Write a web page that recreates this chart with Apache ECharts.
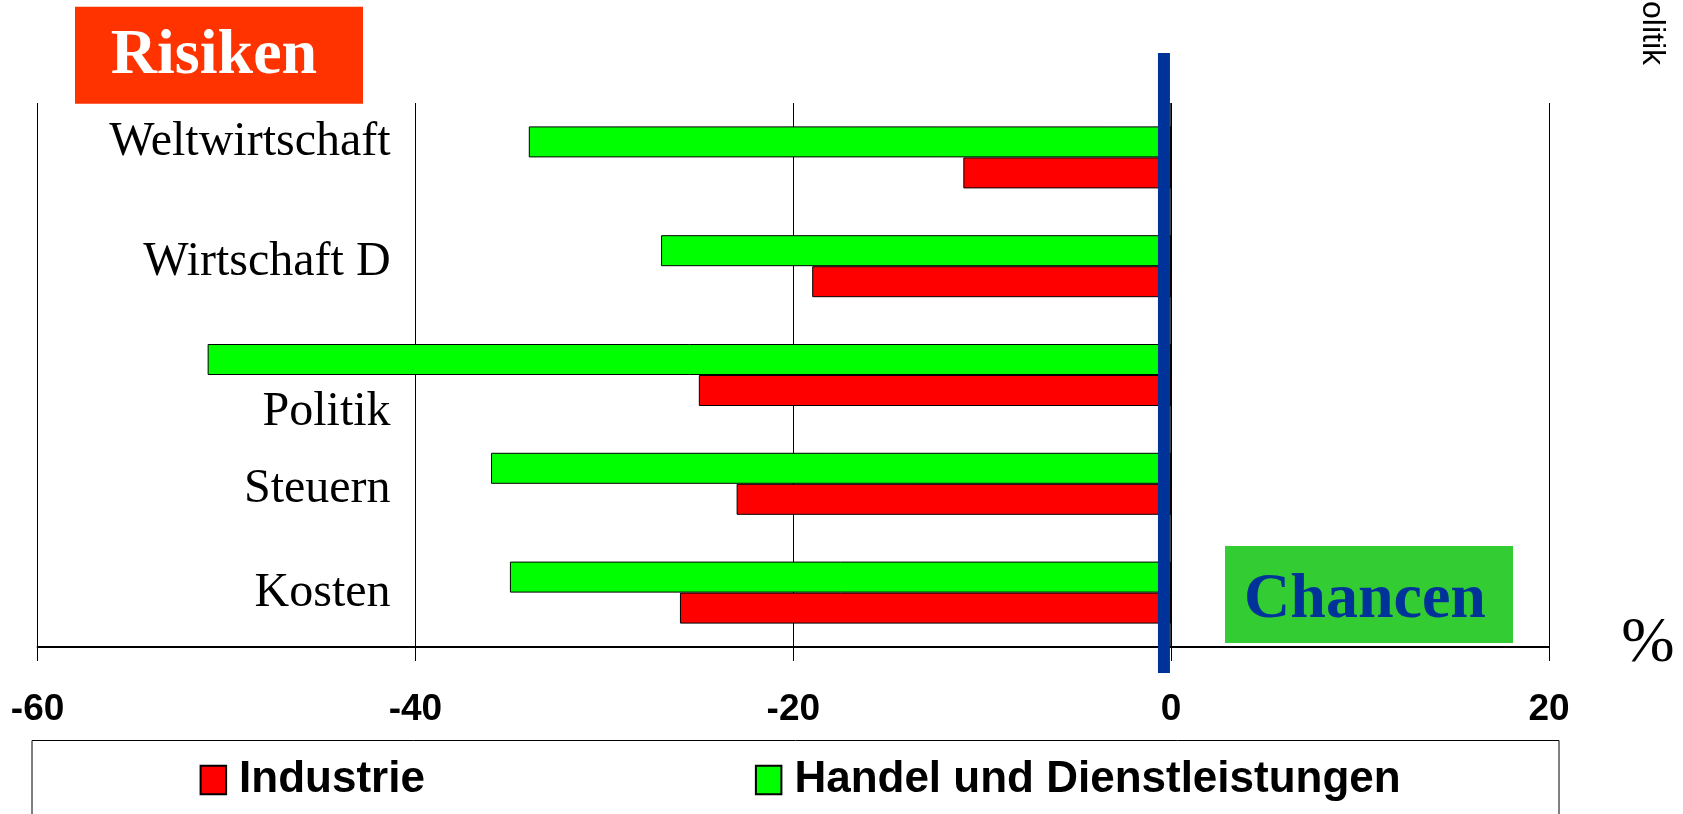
<!DOCTYPE html>
<html><head><meta charset="utf-8">
<script src="https://cdn.jsdelivr.net/npm/echarts@6/dist/echarts.min.js"></script>
<style>html,body{margin:0;padding:0;background:#fff}#c{width:1683px;height:814px}</style>
</head><body><div id="c"></div>
<script>
// Data (categories listed bottom -> top)
const categories = ['Kosten', 'Steuern', 'Politik', 'Wirtschaft D', 'Weltwirtschaft'];
const industrie = [-26, -23, -25, -19, -11];
const handel = [-35, -36, -51, -27, -34];
const seriesNames = ['Industrie', 'Handel und Dienstleistungen'];
const xMin = -60, xMax = 20, xStep = 20;

// Styling: vertical shift of each category label (px, negative = up)
const labelShift = { 'Weltwirtschaft': -15.5, 'Wirtschaft D': -3.5, 'Politik': 37, 'Steuern': 6, 'Kosten': 1 };
const rich = {};
categories.forEach((c, i) => {
  const d = labelShift[c] || 0;
  rich['l' + i] = {
    fontFamily: 'Liberation Serif', fontSize: 48, color: '#000',
    padding: d < 0 ? [0, 0, -2 * d, 0] : [2 * d, 0, 0, 0]
  };
});

const chart = echarts.init(document.getElementById('c'), null, { renderer: 'canvas' });
chart.setOption({
  animation: false,
  backgroundColor: '#fff',
  grid: { left: 37.6, right: 134, top: 103, bottom: 167 },
  xAxis: {
    type: 'value', min: xMin, max: xMax, interval: xStep,
    axisLine: { show: true, onZero: false, lineStyle: { color: '#000', width: 2 } },
    axisTick: { show: true, length: 14, lineStyle: { color: '#000', width: 1 } },
    splitLine: { show: true, lineStyle: { color: '#000', width: 1 } },
    axisLabel: { fontFamily: 'Liberation Sans', fontWeight: 'bold', fontSize: 37, color: '#000', margin: 44 }
  },
  yAxis: {
    type: 'category', data: categories,
    axisLine: { show: false }, axisTick: { show: false }, splitLine: { show: false },
    axisLabel: {
      margin: -353, align: 'right',
      formatter: (v) => '{l' + categories.indexOf(v) + '|' + v + '}',
      rich: rich
    }
  },
  legend: {
    data: seriesNames, left: 194.6, top: 753, orient: 'horizontal',
    icon: 'rect', itemWidth: 25.5, itemHeight: 28.5, itemGap: 330,
    textStyle: { fontFamily: 'Liberation Sans', fontWeight: 'bold', fontSize: 44, color: '#000', padding: [0, 0, 0, 8] }
  },
  series: [
    {
      name: seriesNames[1], type: 'bar', data: handel, barWidth: 31, barGap: '0%',
      itemStyle: { color: '#00FF00', borderColor: '#000', borderWidth: 1 },
      markLine: {
        silent: true, symbol: 'none', label: { show: false },
        lineStyle: { color: '#000', width: 1.5, type: 'solid' },
        data: [{ xAxis: 0 }]
      }
    },
    {
      name: seriesNames[0], type: 'bar', data: industrie, barWidth: 31, barGap: '0%',
      itemStyle: { color: '#FF0000', borderColor: '#000', borderWidth: 1 }
    }
  ]
});

const zeroX = chart.convertToPixel({ xAxisIndex: 0 }, 0);
chart.setOption({
  graphic: [
    // Risiken box
    { type: 'rect', z: 100, shape: { x: 75, y: 6.7, width: 288, height: 97 }, style: { fill: '#FF3300' } },
    { type: 'text', z: 101, x: 214, y: 56, style: { text: 'Risiken', fill: '#fff', font: 'bold 64px "Liberation Serif"', textAlign: 'center', textVerticalAlign: 'middle' } },
    // Chancen box
    { type: 'rect', z: 100, shape: { x: 1225, y: 546, width: 288, height: 97 }, style: { fill: '#33CC33' } },
    { type: 'text', z: 101, x: 1365, y: 600, style: { text: 'Chancen', fill: '#003399', font: 'bold 64px "Liberation Serif"', textAlign: 'center', textVerticalAlign: 'middle' } },
    // Blue zero bar
    { type: 'rect', z: 100, shape: { x: zeroX - 13.2, y: 53, width: 12, height: 620 }, style: { fill: '#003399' } },
    // Percent sign
    { type: 'text', z: 101, x: 1648, y: 644, style: { text: '%', fill: '#000', font: '64px "Liberation Serif"', textAlign: 'center', textVerticalAlign: 'middle' } },
    // rotated side text
    { type: 'text', z: 101, x: 1652, y: 65, rotation: -Math.PI / 2, style: { text: 'politik', fill: '#000', font: '32px "Liberation Sans"', textAlign: 'right', textVerticalAlign: 'middle' } },
    // Legend frame
    { type: 'rect', z: 50, shape: { x: 32, y: 740.5, width: 1527, height: 120 }, style: { fill: 'none', stroke: '#000', lineWidth: 1 } }
  ]
});
</script>
</body></html>
